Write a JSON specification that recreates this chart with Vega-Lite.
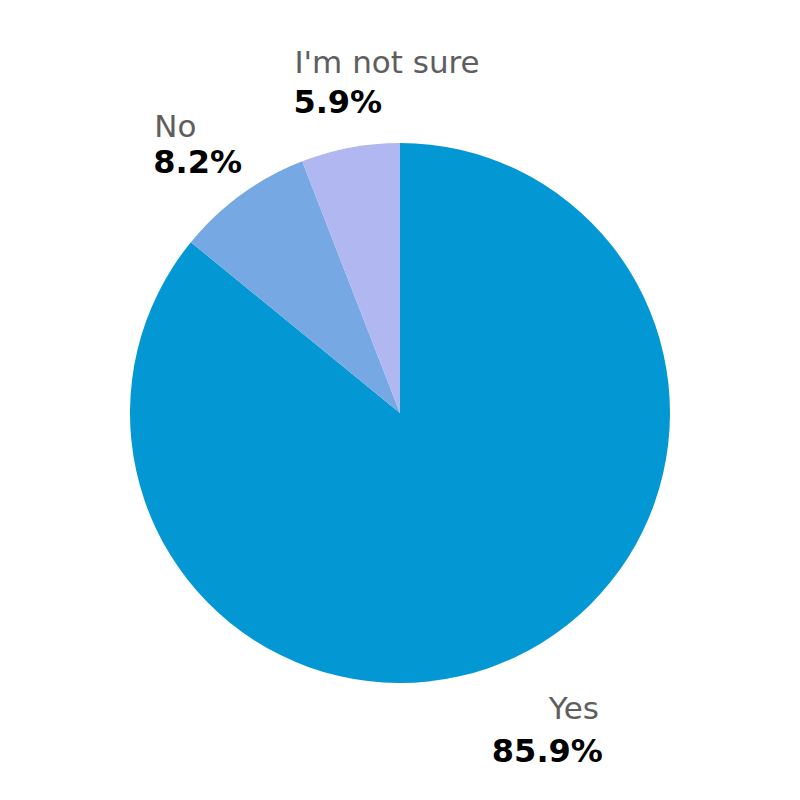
{
  "$schema": "https://vega.github.io/schema/vega-lite/v6.json",
  "width": 800,
  "height": 800,
  "autosize": "none",
  "padding": {"top": 13, "left": 0, "right": 0, "bottom": 0},
  "background": "white",
  "view": {"stroke": null},
  "data": {"values": [
    {"answer": "Yes", "pct": 85.9, "label": "85.9%"},
    {"answer": "No", "pct": 8.2, "label": "8.2%"},
    {"answer": "I'm not sure", "pct": 5.9, "label": "5.9%"}
  ]},
  "encoding": {
    "theta": {"field": "pct", "type": "quantitative", "stack": true},
    "order": {"field": "pct", "type": "quantitative", "sort": "descending"}
  },
  "layer": [
    {
      "mark": {"type": "arc", "radius": 270, "strokeWidth": 0},
      "encoding": {
        "color": {"field": "answer", "type": "nominal",
          "scale": {"domain": ["Yes", "No", "I'm not sure"], "range": ["#0398d4", "#76a8e3", "#b0b7f1"]},
          "legend": null}
      }
    },
    {
      "mark": {"type": "text", "radius": 345, "font": "DejaVu Sans", "fontSize": 31, "fill": "#5e5e5e",
        "baseline": "alphabetic",
        "align": {"expr": "datum.answer == 'Yes' ? 'right' : 'left'"},
        "dx": {"expr": "datum.answer == 'Yes' ? 51 : (datum.answer == 'No' ? -43 : -42)"},
        "dy": {"expr": "datum.answer == 'Yes' ? -6 : (datum.answer == 'No' ? 3 : -1)"}
      },
      "encoding": {
        "detail": {"field": "answer", "type": "nominal"},
        "text": {"field": "answer", "type": "nominal"}
      }
    },
    {
      "mark": {"type": "text", "radius": 345, "font": "DejaVu Sans", "fontWeight": "bold", "fontSize": 32, "fill": "#000000",
        "baseline": "alphabetic",
        "align": {"expr": "datum.answer == 'Yes' ? 'right' : 'left'"},
        "dx": {"expr": "datum.answer == 'Yes' ? 55 : (datum.answer == 'No' ? -44 : -43)"},
        "dy": {"expr": "datum.answer == 'Yes' ? 37 : 39"}
      },
      "encoding": {
        "detail": {"field": "answer", "type": "nominal"},
        "text": {"field": "label", "type": "nominal"}
      }
    }
  ]
}
